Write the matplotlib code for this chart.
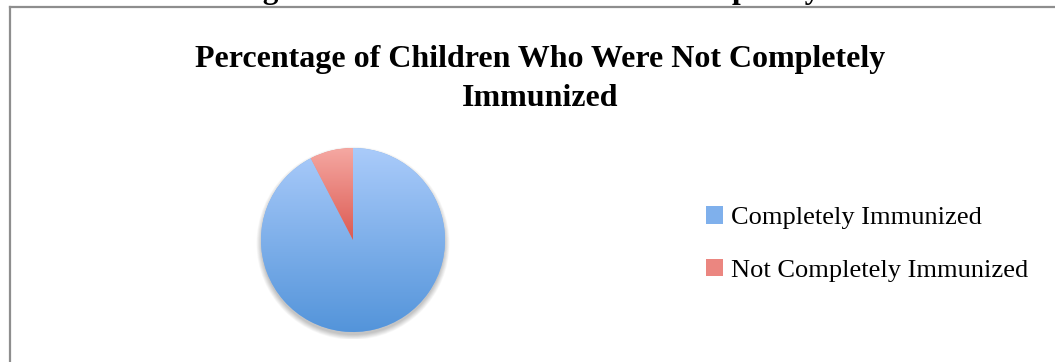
import matplotlib
matplotlib.use("Agg")
import matplotlib.pyplot as plt
import numpy as np
from matplotlib.colors import LinearSegmentedColormap
from matplotlib.lines import Line2D
from matplotlib.patches import Circle

# ---- data ----
categories = ["Completely Immunized", "Not Completely Immunized"]
values = [92.4, 7.6]
title = "Percentage of Children Who Were Not Completely\nImmunized"
caption = "Table 2: Percentage of Children Who Were Not Completely Immunized"

top_colors = ["#AACBFA", "#F5A8A2"]
bottom_colors = ["#5394DA", "#DC5A52"]
mid_colors = ["#7FB0EC", "#EB8680"]

W, H = 1055, 362
fig = plt.figure(figsize=(W / 100, H / 100), dpi=100)
fig.patch.set_facecolor("white")

serif = ["Liberation Serif", "DejaVu Serif"]

# cut-off caption at top of the page (only its lower edge is visible)
fig.text(30 / W, 1 + 2 / H, caption, fontsize=22.5, fontweight="bold",
         family=serif, ha="left", va="baseline", color="black")

# chart border (left and top visible)
fig.add_artist(Line2D([10 / W, 10 / W], [1 - 7 / H, -0.01], color="#8e8e8e", lw=1.6,
                      transform=fig.transFigure))
fig.add_artist(Line2D([10 / W, 1.01], [1 - 7 / H, 1 - 7 / H], color="#8e8e8e", lw=1.6,
                      transform=fig.transFigure))

# title
fig.text(540 / W, 1 - 79 / H, title, fontsize=23, fontweight="bold", family=serif,
         ha="center", va="center", linespacing=1.45, color="black")

# pie axes
cx, cy, r = 353, 240, 92
s = 1.08
ax = fig.add_axes([(cx - r * s) / W, (H - cy - r * s) / H, 2 * r * s / W, 2 * r * s / H])
ax.set_aspect("equal")
ax.axis("off")

# soft shadow, mostly below the pie
for i in range(12):
    ax.add_patch(Circle((0, -0.035), 0.99 + 0.005 * (12 - i), color="#000000",
                        alpha=0.02, lw=0, zorder=0.5))

wedges, _ = ax.pie(values, startangle=90, counterclock=False, colors=mid_colors,
                   radius=1.0, wedgeprops=dict(linewidth=0))
for w in wedges:
    w.set_zorder(1)

for w, tc, bc in zip(wedges, top_colors, bottom_colors):
    cmap = LinearSegmentedColormap.from_list("g", [bc, tc])
    grad = np.linspace(0, 1, 256).reshape(-1, 1)
    verts = w.get_patch_transform().transform(w.get_path().vertices)
    y0, y1 = verts[:, 1].min(), verts[:, 1].max()
    x0, x1 = verts[:, 0].min(), verts[:, 0].max()
    im = ax.imshow(grad, extent=(x0, x1, y0, y1), origin="lower", cmap=cmap,
                   aspect="auto", zorder=2, interpolation="bilinear")
    im.set_clip_path(w)

ax.set_xlim(-s, s)
ax.set_ylim(-s, s)

# legend
handles = [plt.Rectangle((0, 0), 1, 1, facecolor=c, edgecolor="none") for c in mid_colors]
fig.legend(handles, categories, loc="center left", bbox_to_anchor=(706 / W, 1 - 244 / H),
           frameon=False, prop={"family": serif, "size": 19},
           handlelength=0.65, handleheight=0.65, handletextpad=0.3, labelspacing=1.1,
           borderpad=0, borderaxespad=0)

fig.savefig("out.png", dpi=100, facecolor="white")
